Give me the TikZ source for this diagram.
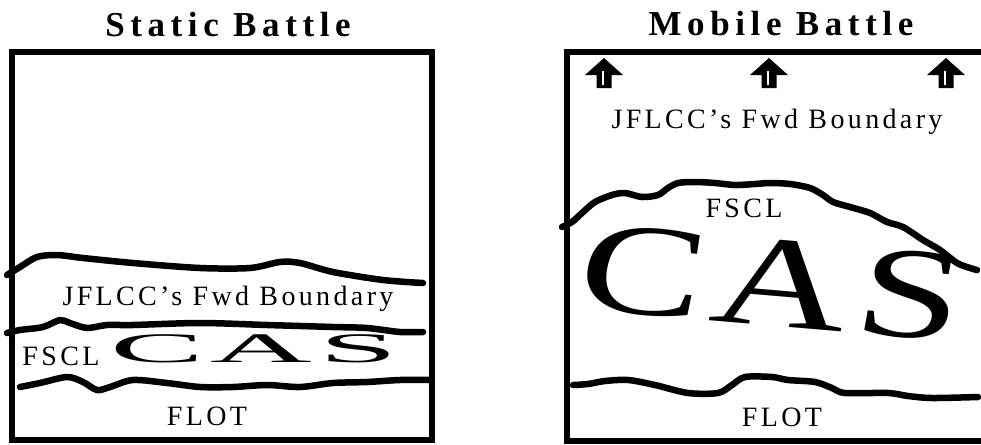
\documentclass[tikz,border=0pt]{standalone}
\usepackage{fontspec}
\setmainfont{Liberation Serif}
\usetikzlibrary{positioning}
\tikzset{
  every picture/.style={x=1pt, y=-1pt},
  frame/.style={draw=black, line width=6pt},
  front/.style={draw=black, line width=6.5pt, line cap=round, line join=round},
  heading/.style={font=\fontsize{35}{40}\selectfont\bfseries\addfontfeature{LetterSpace=16}, anchor=base, inner sep=0pt},
  zone/.style={font=\fontsize{28}{30}\selectfont\addfontfeature{LetterSpace=12}, anchor=base, inner sep=0pt},
  cas/.style={font=\fontsize{#1}{#1}\selectfont\addfontfeature{LetterSpace=5}, inner sep=0pt},
}

\begin{document}
\begin{tikzpicture}
  \useasboundingbox (0,0) rectangle (981,444);
  % static battle
  \node[heading] (stitle) at (228,37) {Static Battle};
  \draw[frame] (12,52) rectangle (432,440);
  \draw[front] plot[smooth, tension=0.5] coordinates {(7,275) (20,267) (37,257) (57,255) (83,258) (133,263) (200,268) (250,268) (280,262) (300,263) (333,272) (383,280) (423,283)};
  \draw[front] plot[smooth, tension=0.5] coordinates {(7,333) (20,330) (43,327) (60,320) (70,323) (87,328) (107,325) (133,325) (200,323) (267,325) (333,327) (367,328) (400,332) (423,332)};
  \draw[front] plot[smooth, tension=0.5] coordinates {(20,387) (40,383) (67,377) (83,382) (97,390) (110,387) (133,380) (167,383) (200,387) (233,387) (267,385) (300,387) (333,383) (367,382) (400,380) (430,380)};
  \node[zone] (sbound) at (228,305) {JFLCC’s Fwd Boundary};
  \node[zone] (sfscl) at (61,365) {FSCL};
  \node[cas=42, xscale=3.35] (scas) at (254,349) {CAS};
  \node[zone] (sflot) at (207,425) {FLOT};
  % mobile battle
  \node[heading] (mtitle) at (781,36) {Mobile Battle};
  \draw[frame] (985,52) -- (567,52) -- (567,441) -- (985,441);
  \foreach \ax in {604,769,946} {
    \fill[black] (\ax,58) -- (\ax+19,75) -- (\ax+7.5,75) -- (\ax+7.5,88) -- (\ax-7.5,88) -- (\ax-7.5,75) -- (\ax-19,75) -- cycle;
    \draw[white, line width=2.5pt] (\ax-1,71) -- (\ax-1,85);
  }
  \node[zone] (mbound) at (777,128) {JFLCC’s Fwd Boundary};
  \draw[front] plot[smooth, tension=0.5] coordinates {(562,227) (572,222) (582,213) (595,202) (612,195) (625,193) (642,197) (658,195) (668,188) (678,183) (695,182) (715,183) (735,185) (755,184) (770,183) (790,184) (810,188) (823,195) (833,202) (850,207) (870,213) (887,222) (903,227) (923,240) (940,250) (957,263) (970,268) (977,270)};
  \node[zone] (mfscl) at (744,217) {FSCL};
  \node[cas=130, xscale=1.45, rotate=-7] (mcas) at (772,283) {CAS};
  \draw[front] plot[smooth, tension=0.5] coordinates {(573,385) (588,384) (605,381) (628,380) (655,385) (688,393) (718,393) (732,385) (745,377) (772,377) (788,380) (815,382) (832,388) (845,393) (888,393) (908,396) (932,398) (978,397)};
  \node[zone] (mflot) at (782,426) {FLOT};
\end{tikzpicture}
\end{document}
